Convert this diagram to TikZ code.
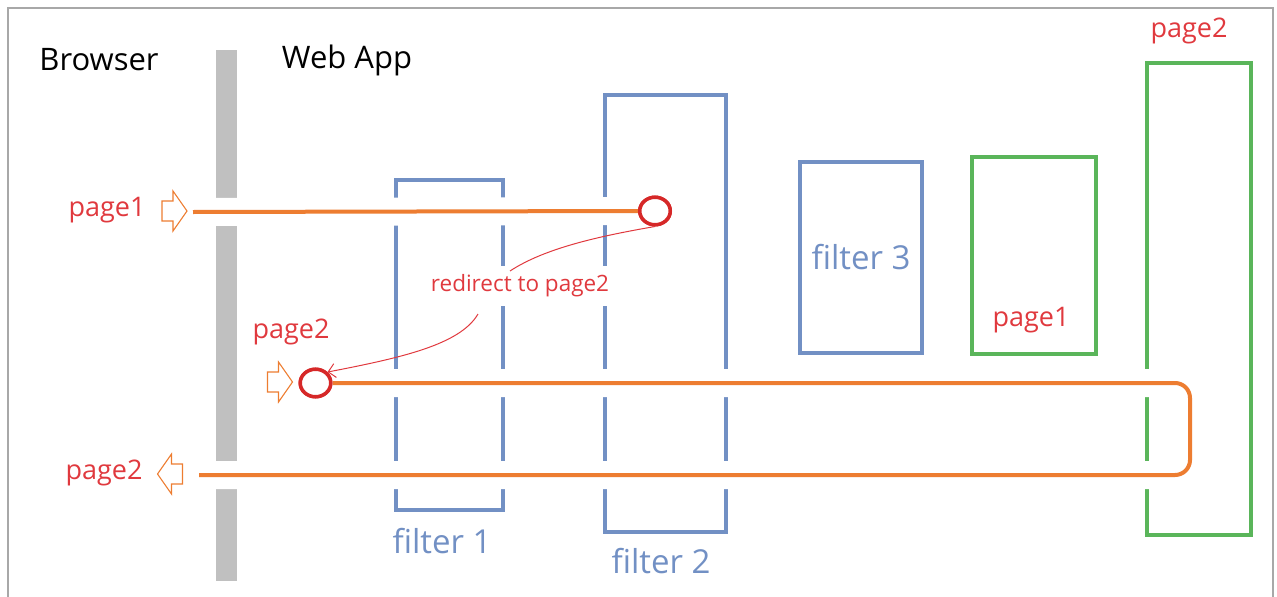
\documentclass[tikz,border=0pt]{standalone}
\usepackage{fontspec}
\setmainfont{Open Sans}
\usetikzlibrary{shapes.geometric,arrows.meta}

\definecolor{flowOrange}{HTML}{ED7D31}
\definecolor{noteRed}{HTML}{E0393E}
\definecolor{ringRed}{HTML}{D62828}
\definecolor{filterBlue}{HTML}{7290C4}
\definecolor{pageGreen}{HTML}{5AB55A}
\definecolor{barGray}{HTML}{C0C0C0}
\definecolor{frameGray}{HTML}{A8A8A8}

\tikzset{
  headtext/.style={font=\fontsize{31}{36}\selectfont, text=black, inner sep=0},
  redtext/.style={font=\fontsize{27}{32}\selectfont, text=noteRed, inner sep=0},
  bluetext/.style={font=\fontsize{33}{38}\selectfont, text=filterBlue, inner sep=0},
  filterbox/.style={draw=filterBlue, line width=4pt, rectangle, inner sep=0},
  pagebox/.style={draw=pageGreen, line width=4pt, rectangle, inner sep=0},
  ring/.style={ellipse, draw=ringRed, line width=3.5pt, fill=white,
    minimum width=30.5pt, minimum height=27.5pt, inner sep=0},
  flow/.style={draw=flowOrange, line width=4pt},
  halo/.style={draw=white, line width=28pt},
  pics/blockarrow/.style={code={
    \draw[flowOrange, line width=1.1pt, line join=miter]
      (-12.5,-10) -- (-1.5,-10) -- (-1.5,-20) -- (12.5,0) -- (-1.5,20)
      -- (-1.5,10) -- (-12.5,10) -- cycle;}}
}

\begin{document}
\begin{tikzpicture}[x=1pt,y=-1pt]
\useasboundingbox (0,0) rectangle (1277,597);

% outer frame
\draw[frameGray, line width=1.5pt] (8,597) -- (8,8) -- (1273,8) -- (1273,597);

% headings
\node[headtext] (browser) at (99,60) {Browser};
\node[headtext] (webapp) at (347,60) {Web App};

% browser / web app boundary
\node[fill=barGray, minimum width=21pt, minimum height=531pt, inner sep=0] (bar) at (226.5,315.5) {};

% filters and pages
\node[filterbox, minimum width=107pt, minimum height=330pt] (f1) at (449.5,345) {};
\node[filterbox, minimum width=121pt, minimum height=437pt] (f2) at (665.5,313.5) {};
\node[filterbox, minimum width=122pt, minimum height=191pt] (f3) at (861,257.5) {};
\node[pagebox, minimum width=124pt, minimum height=197pt] (p1) at (1034,255.5) {};
\node[pagebox, minimum width=104pt, minimum height=472pt] (p2) at (1199,299) {};

\node[bluetext] (f1lab) at (442,541) {filter 1};
\node[bluetext] (f2lab) at (661,561) {filter 2};
\node[bluetext] (f3lab) at (f3) {filter 3};
\node[redtext] (p1lab) at (1031,320) {page1};
\node[redtext] (p2lab) at (1189,31) {page2};

% request endpoints
\coordinate (in1) at (193,212);
\node[ring] (c1) at (655,211) {};
\node[ring] (c2) at (315.5,383) {};
\coordinate (bend1) at (1190,383);
\coordinate (bend2) at (1190,475);
\coordinate (out2) at (199,475);

% white gaps where the flows cross other lines
\path[halo] (in1) -- (c1.west);
\path[halo, rounded corners=15pt] (c2.east) -- (bend1) -- (bend2) -- (out2);

% flows
\path[flow] (in1) -- (c1.west);
\path[flow, rounded corners=15pt] (c2.east) -- (bend1) -- (bend2) -- (out2);
\node[ring] at (c1) {};
\node[ring] at (c2) {};

% block arrows
\pic at (174.5,211) {blockarrow};
\pic at (280,382) {blockarrow};
\pic[xscale=-1] at (170,474) {blockarrow};

% side labels
\node[redtext] (lab1) at (107,210) {page1};
\node[redtext] (lab2) at (291,332) {page2};
\node[redtext] (lab3) at (104,473) {page2};

% redirect note
\node[fill=white, inner xsep=2pt, minimum height=40pt, font=\fontsize{22.5}{26}\selectfont, text=noteRed]
  (redir) at (520,286) {redirect to page2};
\coordinate (r1) at (510,271);
\coordinate (r2) at (478,314);
\draw[noteRed, line width=1pt] (c1.south) .. controls (600,236) and (545,248) .. (r1);
\draw[noteRed, line width=1pt, -{Straight Barb[length=7pt,width=14pt]}]
  (r2) .. controls (460,345) and (400,358) .. (c2.north east);
\end{tikzpicture}
\end{document}
